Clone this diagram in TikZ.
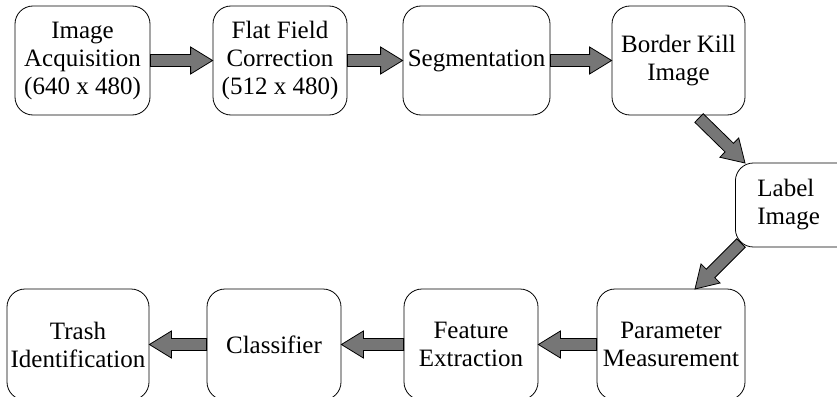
\documentclass[tikz,border=0pt]{standalone}
\usepackage{fontspec}
\setmainfont{Liberation Serif}
\usetikzlibrary{calc}
\definecolor{arrgray}{RGB}{118,118,118}
\tikzset{
  stagebox/.style={draw=black, line width=0.8pt, rounded corners=18pt, align=center,
    inner sep=1pt, minimum height=109pt, font=\fontsize{25}{28}\selectfont},
  blockarr/.style={draw=black, line width=0.8pt, fill=arrgray, line join=miter}
}
\newcommand\blkarrow[2]{%
  \path (#1) coordinate (tmpS) (#2) coordinate (tmpE);
  \coordinate (tmpH) at ($(tmpE)!22pt!(tmpS)$);
  \draw[blockarr] ($(tmpS)!6pt!90:(tmpE)$) -- ($(tmpH)!6pt!90:(tmpE)$)
    -- ($(tmpH)!13.5pt!90:(tmpE)$) -- (tmpE) -- ($(tmpH)!13.5pt!-90:(tmpE)$)
    -- ($(tmpH)!6pt!-90:(tmpE)$) -- ($(tmpS)!6pt!-90:(tmpE)$) -- cycle;
}
\begin{document}
\begin{tikzpicture}[x=1pt, y=-1pt]
\useasboundingbox (0,0) rectangle (837,396);
% top row
\node[stagebox, minimum width=135pt] (img) at (82.5,60.5) {Image\\Acquisition\\(640 x 480)};
\node[stagebox, minimum width=134pt] (ffc) at (280,60.5) {Flat Field\\Correction\\(512 x 480)};
\node[stagebox, minimum width=147pt] (seg) at (476.5,60.5) {Segmentation};
\node[stagebox, minimum width=133pt] (bk) at (678.5,60.5) {Border Kill\\Image};
% label image (runs past right edge)
\node[stagebox, anchor=west, minimum height=84pt, text width=93pt, align=left, inner xsep=22pt] (lab) at (735,205) {Label\\Image};
% bottom row
\node[stagebox, minimum width=148pt, minimum height=111pt] (par) at (671,344.5) {Parameter\\Measurement};
\node[stagebox, minimum width=134pt, minimum height=111pt] (feat) at (471,344.5) {Feature\\Extraction};
\node[stagebox, minimum width=134pt, minimum height=111pt] (cls) at (274,344.5) {Classifier};
\node[stagebox, minimum width=142pt, minimum height=111pt] (trash) at (78,344.5) {Trash\\Identification};
% connector end points
\coordinate (bkout) at (699,118);
\coordinate (labin) at (745,163);
\coordinate (labout) at (741,243);
\coordinate (parin) at (695,289);
% arrows
\blkarrow{img.east}{ffc.west}
\blkarrow{ffc.east}{seg.west}
\blkarrow{seg.east}{bk.west}
\blkarrow{bkout}{labin}
\blkarrow{labout}{parin}
\blkarrow{par.west}{feat.east}
\blkarrow{feat.west}{cls.east}
\blkarrow{cls.west}{trash.east}
\end{tikzpicture}
\end{document}
